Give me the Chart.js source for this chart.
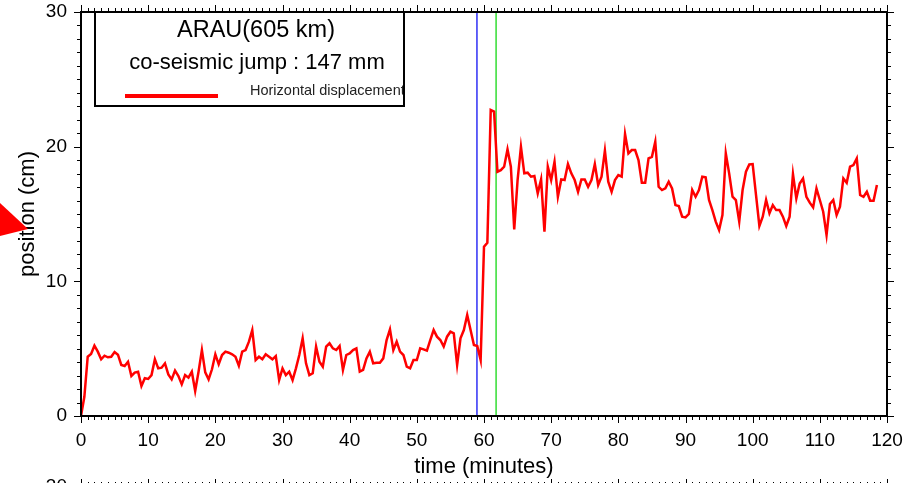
<!DOCTYPE html>
<html>
<head>
<meta charset="utf-8">
<script src="https://cdn.jsdelivr.net/npm/chart.js@4.4.1/dist/chart.umd.min.js"></script>
<style>
html,body{margin:0;padding:0;background:#ffffff;}
#wrap{width:910px;height:483px;position:relative;overflow:hidden;}
</style>
</head>
<body>
<div id="wrap"><canvas id="c" width="910" height="483"></canvas></div>
<script>
// ---------------- data ----------------
const stationTitle = "ARAU(605 km)";
const jumpText = "co-seismic jump : 147 mm";
const seriesName = "Horizontal displacement";
const xAxisTitle = "time (minutes)";
const yAxisTitle = "position (cm)";
const nextPanelTopLabel = "30";

const sampleStepMin = 0.5;          // 30 s GPS sampling
const positionCm = [
  // 0 - 25 min
  0.00, 1.43, 4.40, 4.60, 5.22, 4.78, 4.21, 4.48, 4.36, 4.40,
  4.75, 4.55, 3.79, 3.71, 4.03, 2.97, 3.22, 3.29, 2.23, 2.80,
  2.75, 3.04, 4.21, 3.54, 3.59, 3.91, 3.09, 2.72, 3.37, 2.97,
  2.35, 3.04, 2.85, 3.29, 1.86, 3.29, 4.90, 3.24, 2.72, 3.47,
  4.58, 3.84, 4.53, 4.78, 4.70, 4.58, 4.40, 3.73, 4.78, 4.90,
  5.52,
  // 25.5 - 50 min
  6.38, 4.16, 4.40, 4.21, 4.58, 4.40, 4.21, 4.45, 2.67, 3.54,
  3.04, 3.29, 2.67, 3.54, 4.53, 5.77, 3.91, 3.04, 3.17, 5.15,
  4.03, 3.66, 5.15, 5.40, 5.02, 4.90, 5.20, 3.42, 4.53, 4.65,
  4.90, 5.02, 3.29, 3.42, 4.28, 4.78, 3.91, 3.96, 3.96, 4.28,
  5.64, 6.43, 4.90, 5.52, 4.78, 4.53, 3.66, 3.54, 4.16, 4.16,
  // 50.5 - 62 min
  5.02, 4.95, 4.85, 5.64, 6.38, 5.89, 5.64, 5.15, 5.89, 6.26,
  6.14, 3.79, 5.77, 6.38, 7.50, 6.38, 5.27, 5.20, 4.16, 12.57,
  12.87, 22.72, 22.60, 18.14,
  // 62.5 - 91.5 min
  18.26, 18.51, 19.80, 18.51, 13.86, 17.52, 19.99, 18.02, 18.07, 17.77,
  17.82, 16.53, 17.57, 13.69, 18.51, 17.52, 18.88, 16.28, 17.57, 17.52,
  18.71, 18.02, 17.52, 16.65, 17.57, 17.57, 17.02, 17.52, 18.71, 17.15,
  17.77, 19.70, 17.40, 16.65, 17.52, 17.89, 17.77, 20.94, 19.50, 19.75,
  19.75, 19.00, 17.32, 17.32, 19.13, 19.25, 20.37, 17.02, 16.78, 16.90,
  17.40, 16.90, 15.66, 15.59, 14.80, 14.75, 15.00, 16.78, 16.28,
  // 92 - 118.5 min
  16.78, 17.77, 17.72, 16.04, 15.29, 14.43, 13.81, 14.92, 19.50, 18.02,
  16.28, 16.04, 14.43, 16.78, 18.14, 18.68, 18.71, 16.41, 14.11, 14.80,
  16.04, 15.05, 15.66, 15.29, 15.29, 14.80, 14.11, 14.80, 17.97, 16.16,
  17.27, 17.64, 16.28, 15.84, 15.49, 16.90, 16.04, 15.17, 13.44, 15.74,
  16.04, 14.92, 15.54, 17.64, 17.32, 18.51, 18.63, 19.13, 16.41, 16.28,
  16.65, 15.99, 15.99, 17.15
];
const timeMin = positionCm.map((_, i) => i * sampleStepMin);

const xTickValues = [0, 10, 20, 30, 40, 50, 60, 70, 80, 90, 100, 110, 120];
const yTickValues = [0, 10, 20, 30];
const xMinorStep = 1;
const yMinorStep = 1;

const originTime = 58.95;   // blue marker
const arrivalTime = 61.8;   // green marker

// ---------------- chart ----------------
const FONT = "'Liberation Sans', Arial, Helvetica, sans-serif";

const seriesPoints = timeMin.map((t, i) => ({ x: t, y: positionCm[i] }));

function noScalePadding(scale) {
  scale.paddingTop = 0;
  scale.paddingBottom = 0;
  scale.paddingLeft = 0;
  scale.paddingRight = 0;
}

const decorPlugin = {
  id: 'decor',
  afterDraw(chart) {
    const { ctx, chartArea: ca, scales } = chart;
    const xs = scales.x, ys = scales.y;
    ctx.save();
    // frame
    ctx.strokeStyle = '#000';
    ctx.lineWidth = 2;
    ctx.strokeRect(ca.left, ca.top, ca.right - ca.left, ca.bottom - ca.top);

    // ticks
    ctx.lineWidth = 1;
    ctx.beginPath();
    const xMin = xTickValues[0], xMax = xTickValues[xTickValues.length - 1];
    for (let v = xMin; v <= xMax + 1e-9; v += xMinorStep) {
      const major = xTickValues.includes(v);
      const len = major ? 7 : 4;
      const px = Math.round(xs.getPixelForValue(v)) + 0.5;
      ctx.moveTo(px, ca.bottom); ctx.lineTo(px, ca.bottom + len);
      ctx.moveTo(px, ca.top); ctx.lineTo(px, ca.top - len);
      // top ticks of the next panel below
      ctx.moveTo(px, 486); ctx.lineTo(px, 486 - len);
    }
    const yMin = yTickValues[0], yMax = yTickValues[yTickValues.length - 1];
    for (let v = yMin; v <= yMax + 1e-9; v += yMinorStep) {
      const major = yTickValues.includes(v);
      const len = major ? 7 : 4;
      const py = Math.round(ys.getPixelForValue(v)) + 0.5;
      ctx.moveTo(ca.left, py); ctx.lineTo(ca.left - len, py);
      ctx.moveTo(ca.right, py); ctx.lineTo(ca.right + len, py);
    }
    ctx.stroke();

    // next panel partial label
    ctx.fillStyle = '#000';
    ctx.font = '19px ' + FONT;
    ctx.textAlign = 'right';
    ctx.textBaseline = 'middle';
    ctx.fillText(nextPanelTopLabel, 67, 487);

    // legend box
    const bx = 95, by = 12, bw = 309, bh = 94;
    ctx.fillStyle = '#fff';
    ctx.fillRect(bx, by, bw, bh);
    ctx.lineWidth = 2;
    ctx.strokeStyle = '#000';
    ctx.strokeRect(bx, by, bw, bh);
    ctx.fillStyle = '#000';
    ctx.textAlign = 'center';
    ctx.textBaseline = 'middle';
    ctx.font = '23.5px ' + FONT;
    ctx.fillText(stationTitle, 256, 31);
    ctx.font = '22px ' + FONT;
    ctx.fillText(jumpText, 257, 63);
    ctx.strokeStyle = '#ff0000';
    ctx.lineWidth = 4;
    ctx.beginPath();
    ctx.moveTo(125, 96); ctx.lineTo(218, 96);
    ctx.stroke();
    ctx.save();
    ctx.beginPath();
    ctx.rect(bx, by, bw - 1, bh);
    ctx.clip();
    ctx.fillStyle = '#222';
    ctx.font = '14.5px ' + FONT;
    ctx.textAlign = 'left';
    ctx.fillText(seriesName, 250, 91);
    ctx.restore();

    // red arrow at left margin
    ctx.fillStyle = '#ff0000';
    ctx.beginPath();
    ctx.moveTo(0, 203);
    ctx.lineTo(28, 229);
    ctx.lineTo(0, 236);
    ctx.closePath();
    ctx.fill();
    ctx.restore();
  }
};

new Chart(document.getElementById('c'), {
  type: 'line',
  data: {
    datasets: [
      {
        label: seriesName,
        data: seriesPoints,
        borderColor: '#ff0000',
        borderWidth: 2.5,
        pointRadius: 0,
        tension: 0,
        fill: false
      },
      {
        label: 'origin',
        data: [{ x: originTime, y: yTickValues[0] }, { x: originTime, y: yTickValues[yTickValues.length - 1] }],
        borderColor: '#2f2ff5',
        borderWidth: 1.5,
        pointRadius: 0
      },
      {
        label: 'arrival',
        data: [{ x: arrivalTime, y: yTickValues[0] }, { x: arrivalTime, y: yTickValues[yTickValues.length - 1] }],
        borderColor: '#33dd33',
        borderWidth: 1.5,
        pointRadius: 0
      }
    ]
  },
  options: {
    responsive: false,
    animation: false,
    devicePixelRatio: 1,
    layout: { padding: { left: 0, right: 23, top: 12, bottom: 0 } },
    plugins: { legend: { display: false }, tooltip: { enabled: false } },
    scales: {
      x: {
        type: 'linear',
        min: xTickValues[0],
        max: xTickValues[xTickValues.length - 1],
        grid: { display: false, drawTicks: false },
        border: { display: false },
        ticks: {
          stepSize: 10,
          color: '#000',
          padding: 13,
          maxRotation: 0,
          font: { family: FONT, size: 19 }
        },
        title: {
          display: true,
          text: xAxisTitle,
          color: '#000',
          font: { family: FONT, size: 22 },
          padding: { top: 0, bottom: 3 }
        },
        afterFit(scale) { scale.height = 67; noScalePadding(scale); }
      },
      y: {
        type: 'linear',
        min: yTickValues[0],
        max: yTickValues[yTickValues.length - 1],
        grid: { display: false, drawTicks: false },
        border: { display: false },
        ticks: {
          stepSize: 10,
          color: '#000',
          padding: 14,
          font: { family: FONT, size: 19 }
        },
        title: {
          display: true,
          text: yAxisTitle,
          color: '#000',
          font: { family: FONT, size: 22 },
          padding: { top: 15, bottom: 0 }
        },
        afterFit(scale) { scale.width = 81; noScalePadding(scale); }
      }
    }
  },
  plugins: [decorPlugin]
});
</script>
</body>
</html>
